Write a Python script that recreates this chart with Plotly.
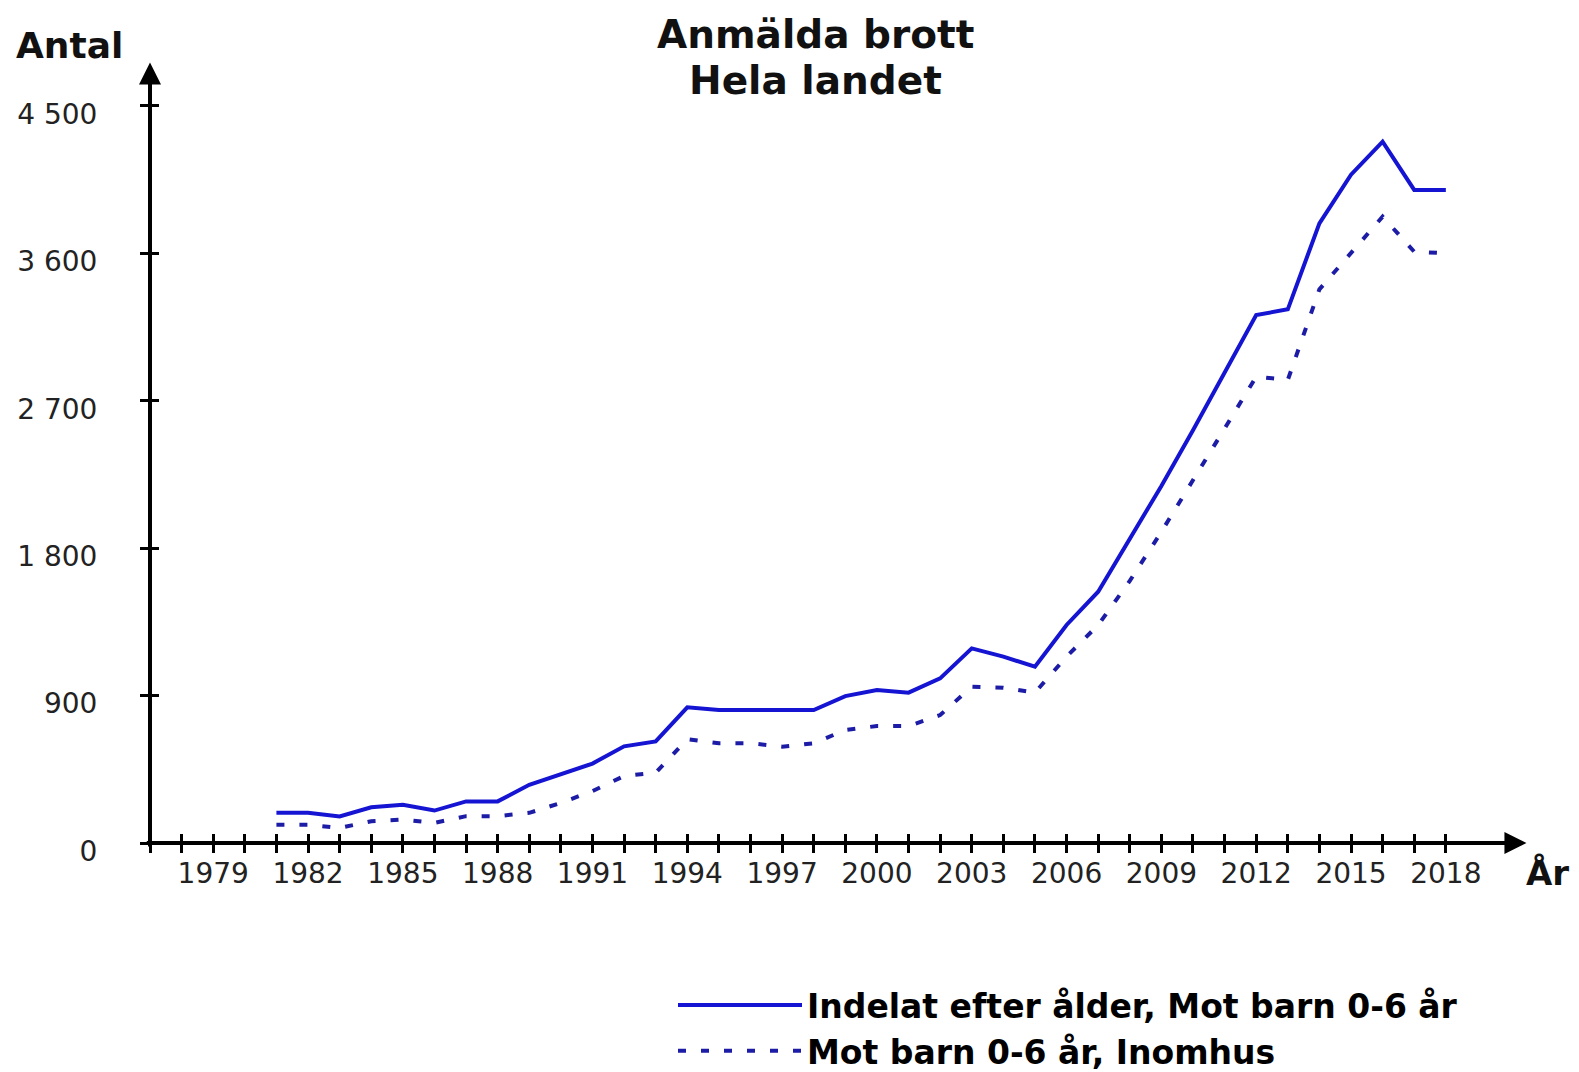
import plotly.graph_objects as go

# ---------------- data ----------------
years = [1981, 1982, 1983, 1984, 1985, 1986, 1987, 1988, 1989, 1990,
         1991, 1992, 1993, 1994, 1995, 1996, 1997, 1998, 1999, 2000,
         2001, 2002, 2003, 2004, 2005, 2006, 2007, 2008, 2009, 2010,
         2011, 2012, 2013, 2014, 2015, 2016, 2017, 2018]

indelat_alder = [184, 184, 162, 218, 234, 198, 254, 254, 355, 418,
                 485, 590, 620, 828, 812, 812, 812, 812, 897, 934,
                 918, 1005, 1188, 1138, 1076, 1331, 1534, 1860, 2180, 2520,
                 2870, 3223, 3258, 3783, 4080, 4282, 3987, 3987]

inomhus = [112, 112, 92, 133, 143, 123, 164, 164, 184, 245,
           317, 409, 429, 634, 609, 609, 588, 609, 690, 714,
           714, 781, 954, 948, 918, 1138, 1331, 1600, 1900, 2220,
           2530, 2847, 2827, 3380, 3600, 3824, 3610, 3600]

series_names = ["Indelat efter ålder, Mot barn 0-6 år", "Mot barn 0-6 år, Inomhus"]

y_tickvals = [0, 900, 1800, 2700, 3600, 4500]
y_ticktext = ["0", "900", "1 800", "2 700", "3 600", "4 500"]

x_tick_years = [1977, 1978, 1979, 1980, 1981, 1982, 1983, 1984, 1985, 1986,
                1987, 1988, 1989, 1990, 1991, 1992, 1993, 1994, 1995, 1996,
                1997, 1998, 1999, 2000, 2001, 2002, 2003, 2004, 2005, 2006,
                2007, 2008, 2009, 2010, 2011, 2012, 2013, 2014, 2015, 2016,
                2017, 2018]
x_labelled = ["1979", "1982", "1985", "1988", "1991", "1994", "1997",
              "2000", "2003", "2006", "2009", "2012", "2015", "2018"]
x_ticktext = [str(y) if str(y) in x_labelled else "" for y in x_tick_years]

title_lines = ["Anmälda brott", "Hela landet"]
y_title = "Antal"
x_title = "År"

# ---------------- layout geometry ----------------
OFF = 8                      # page body margin
W, H = 1579 - 2 * OFF, 1072 - OFF
PLOT_L, PLOT_R, PLOT_T, PLOT_B = 150, 1528, 62, 843   # target pixel box on page
L, T = PLOT_L - OFF, PLOT_T - OFF
R, B = W - (PLOT_R - OFF), H - (PLOT_B - OFF)
X0, X1 = 1977, 2020.6
Y0, Y1 = 0, 4768
PW, PH = W - L - R, H - T - B

def px_to_paper(px, py):
    return (px - OFF - L) / PW, (H - B - (py - OFF)) / PH

FONT = "DejaVu Sans"
BLUE = "#1414d2"
NAVY = "#1c1ca6"

fig = go.Figure()
fig.add_trace(go.Scatter(x=years, y=indelat_alder, mode="lines", name=series_names[0],
                         line=dict(color=BLUE, width=4), cliponaxis=False))
fig.add_trace(go.Scatter(x=years, y=inomhus, mode="lines", name=series_names[1],
                         line=dict(color=NAVY, width=4, dash="8px,15px"), cliponaxis=False))
# helper trace to activate overlay axes (no data)
fig.add_trace(go.Scatter(x=[], y=[], xaxis="x2", yaxis="y2", showlegend=False))

tickfont = dict(family=FONT, size=28, color="#222222")
fig.update_layout(
    width=W, height=H,
    margin=dict(l=L, r=R, t=T, b=B, pad=0, autoexpand=False),
    paper_bgcolor="white", plot_bgcolor="white",
    showlegend=True,
    xaxis=dict(range=[X0, X1], showgrid=False, zeroline=False, showline=False,
               tickmode="array", tickvals=x_tick_years, ticktext=x_ticktext,
               ticks="outside", ticklen=9, tickwidth=3, tickcolor="black",
               tickfont=tickfont, ticklabelstandoff=-4),
    xaxis2=dict(range=[X0, X1], overlaying="x", anchor="y", side="bottom",
                showgrid=False, zeroline=False, showline=False,
                tickmode="array", tickvals=x_tick_years, showticklabels=False,
                ticks="inside", ticklen=9, tickwidth=3, tickcolor="black"),
    yaxis=dict(range=[Y0, Y1], showgrid=False, zeroline=False, showline=False,
               tickmode="array", tickvals=y_tickvals, ticktext=y_ticktext,
               ticks="outside", ticklen=9, tickwidth=3, tickcolor="black",
               tickfont=tickfont, ticklabelstandoff=37, ticklabelshift=8),
    yaxis2=dict(range=[Y0, Y1], overlaying="y", anchor="x", side="left",
                showgrid=False, zeroline=False, showline=False,
                tickmode="array", tickvals=y_tickvals, showticklabels=False,
                ticks="inside", ticklen=9, tickwidth=3, tickcolor="black"),
    legend=dict(x=px_to_paper(673, 0)[0], y=px_to_paper(0, 977)[1],
                xanchor="left", yanchor="top", itemwidth=124,
                font=dict(family=FONT, size=33, color="black", weight="bold"),
                bgcolor="rgba(0,0,0,0)", tracegroupgap=0),
)

ann = []
# axis lines with arrowheads
ann.append(dict(x=2020.55, y=0, ax=1976.85, ay=0, xref="x", yref="y", axref="x", ayref="y",
                showarrow=True, arrowhead=2, arrowsize=1.1, arrowwidth=4, arrowcolor="black", text=""))
ann.append(dict(x=1977, y=4765, ax=1977, ay=-30, xref="x", yref="y", axref="x", ayref="y",
                showarrow=True, arrowhead=2, arrowsize=1.1, arrowwidth=4, arrowcolor="black", text=""))
# title lines
tx, ty1 = px_to_paper(815, 34)
_, ty2 = px_to_paper(815, 81)
ann.append(dict(text=f"<b>{title_lines[0]}</b>", x=tx, y=ty1, xref="paper", yref="paper",
                xanchor="center", yanchor="middle", showarrow=False,
                font=dict(family=FONT, size=39, color="#111111")))
ann.append(dict(text=f"<b>{title_lines[1]}</b>", x=tx, y=ty2, xref="paper", yref="paper",
                xanchor="center", yanchor="middle", showarrow=False,
                font=dict(family=FONT, size=39, color="#111111")))
# axis titles
ax_x, ax_y = px_to_paper(14, 45)
ann.append(dict(text=f"<b>{y_title}</b>", x=ax_x, y=ax_y, xref="paper", yref="paper",
                xanchor="left", yanchor="middle", showarrow=False,
                font=dict(family=FONT, size=36, color="#111111")))
ar_x, ar_y = px_to_paper(1524, 873)
ann.append(dict(text=f"<b>{x_title}</b>", x=ar_x, y=ar_y, xref="paper", yref="paper",
                xanchor="left", yanchor="middle", showarrow=False,
                font=dict(family=FONT, size=34, color="#111111")))
fig.update_layout(annotations=ann)

fig.write_html("out.html")
